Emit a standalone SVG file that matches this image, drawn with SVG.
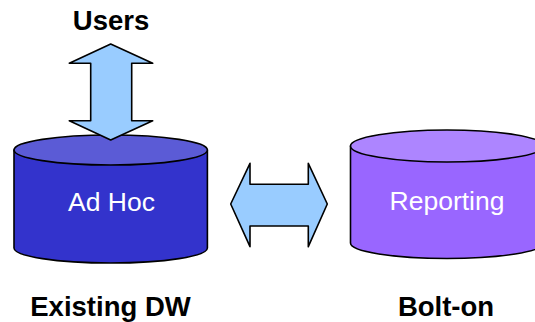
<svg xmlns="http://www.w3.org/2000/svg" width="535" height="322" viewBox="0 0 535 322">
<style>
.lbl{font-family:"Liberation Sans",Arial,sans-serif;font-size:27.5px;font-weight:bold;fill:#000;text-anchor:middle}
.in{font-family:"Liberation Sans",Arial,sans-serif;font-size:26.5px;fill:#fff;text-anchor:middle}
.st{stroke:#000;stroke-width:1.6;stroke-linejoin:round}
.arr{fill:#99CCFF}
</style>
<rect width="535" height="322" fill="#fff"/>
<g id="existing-dw">
<path class="st" fill="#3333CC" d="M14,150 L14,248 A96.7,15 0 0 0 207.4,248 L207.4,150 Z"/>
<ellipse class="st" fill="#5B5BD6" cx="110.7" cy="150" rx="96.7" ry="15"/>
<text class="in" x="111.5" y="211">Ad Hoc</text>
<text class="lbl" x="110.5" y="316">Existing DW</text>
</g>
<g id="bolt-on">
<path class="st" fill="#9966FF" d="M350.5,146 L350.5,243 A96.5,15.5 0 0 0 543.5,243 L543.5,146 Z"/>
<ellipse class="st" fill="#AD85FF" cx="447" cy="146" rx="96.5" ry="16"/>
<text class="in" x="447" y="210">Reporting</text>
<text class="lbl" x="446" y="316">Bolt-on</text>
</g>
<g id="users">
<text class="lbl" x="111" y="29.5">Users</text>
</g>
<g id="connectors">
<polygon class="st arr" points="110.7,44 152.7,63.3 131.7,63.3 131.7,120.7 152.7,120.7 110.7,140 69.3,120.7 90.7,120.7 90.7,63.3 69.3,63.3"/>
<polygon class="st arr" points="230.7,204 250,163.3 250,184.3 308.3,184.3 308.3,163.3 327.3,204 308.3,246.7 308.3,226 250,226 250,246.7"/>
</g>
</svg>
